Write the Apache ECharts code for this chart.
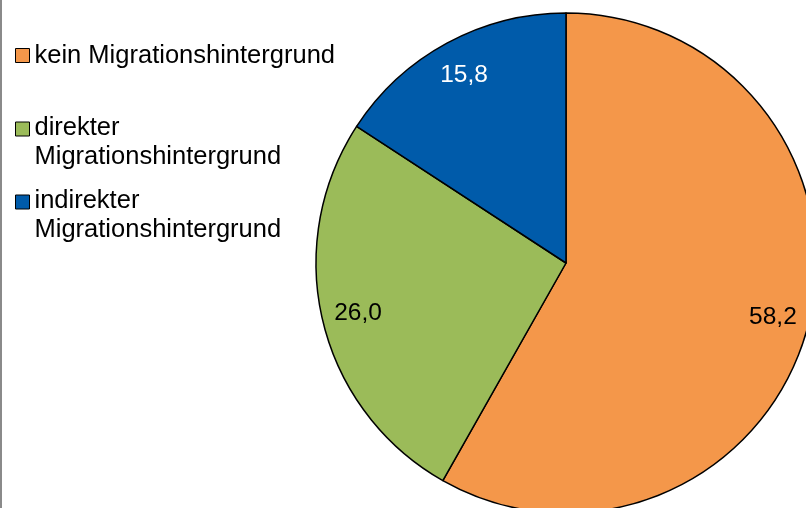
<!DOCTYPE html>
<html><head><meta charset="utf-8">
<script src="https://cdn.jsdelivr.net/npm/echarts@6/dist/echarts.min.js"></script>
<style>html,body{margin:0;padding:0;background:#fff;}#c{width:804px;height:508px;border-left:2px solid #8a8a8a;}</style>
</head><body><div id="c"></div>
<script>
const categories = ['kein Migrationshintergrund', 'direkter Migrationshintergrund', 'indirekter Migrationshintergrund'];
const values = [58.2, 26.0, 15.8];
const colors = ['#F4974A', '#9BBB59', '#005BAA'];
const labelColors = ['#000', '#000', '#fff'];
const legendLabels = ['kein Migrationshintergrund', 'direkter\nMigrationshintergrund', 'indirekter\nMigrationshintergrund'];

const chart = echarts.init(document.getElementById('c'));
const fmt = v => v.toFixed(1).replace('.', ',');
const data = categories.map((c, i) => ({name: c, value: values[i], itemStyle: {color: colors[i]}}));
const legendTops = [41, 113, 186];
const legends = categories.map((c, i) => {
  const multi = legendLabels[i].includes('\n');
  return {
    data: [c], left: 13, top: legendTops[i], padding: 0, orient: 'vertical',
    icon: multi ? 'path://M0,0h14v14h-14zM0,40' : 'rect',
    itemWidth: 14, itemHeight: multi ? 40 : 14, selectedMode: false,
    itemStyle: {borderColor: '#000', borderWidth: 1},
    formatter: () => legendLabels[i],
    textStyle: {fontFamily: 'Liberation Sans, Arial', fontSize: 25.5, color: '#000', lineHeight: 29}
  };
});
chart.setOption({
  animation: false,
  legend: legends,
  series: [{
    type: 'pie', center: [564, 263], radius: 250, startAngle: 90, clockwise: true,
    data: data, silent: true,
    itemStyle: {borderColor: '#000', borderWidth: 1.5},
    label: {show: false}, labelLine: {show: false}
  }, {
    type: 'pie', center: [564, 263], radius: [172, 250], startAngle: 90, clockwise: true,
    silent: true, legendHoverLink: false,
    data: categories.map((c, i) => ({name: c, value: values[i], itemStyle: {color: 'rgba(0,0,0,0)'},
      label: {color: labelColors[i]}})),
    itemStyle: {borderWidth: 0},
    label: {show: true, position: 'inside', fontFamily: 'Liberation Sans, Arial', fontSize: 24.5,
      formatter: p => fmt(p.value)},
    labelLine: {show: false}
  }]
});
</script></body></html>
